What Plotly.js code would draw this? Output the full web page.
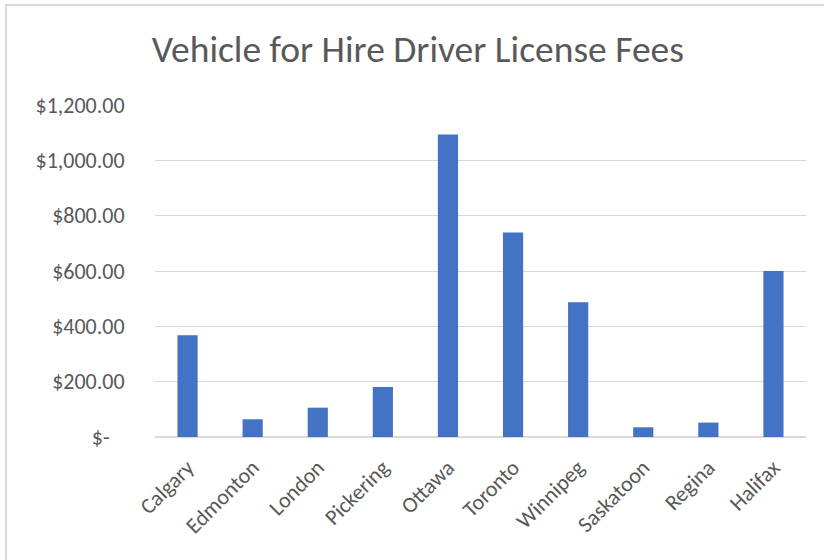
<!DOCTYPE html>
<html>
<head>
<meta charset="utf-8">
<script src="https://cdn.plot.ly/plotly-3.0.1.min.js"></script>
<style>
  html, body { margin: 0; padding: 0; background: #fff; }
  #wrap { position: relative; width: 824px; height: 560px; overflow: hidden; }
  #chart { width: 824px; height: 560px; }
  #frame { position: absolute; left: 5px; top: 4px; width: 900px; height: 700px;
           border-left: 2px solid #d9d9d9; border-top: 2px solid #d9d9d9; pointer-events: none; }
</style>
</head>
<body>
<div id="wrap">
  <div id="chart"></div>
  <div id="frame"></div>
</div>
<script>
const cities = ["Calgary", "Edmonton", "London", "Pickering", "Ottawa", "Toronto", "Winnipeg", "Saskatoon", "Regina", "Halifax"];
const fees = [368, 64, 106, 181, 1093, 739, 487, 35, 52, 600];
const tickVals = [0, 200, 400, 600, 800, 1000, 1200];
const tickLabels = ["$-\u00a0\u00a0\u00a0", "$200.00", "$400.00", "$600.00", "$800.00", "$1,000.00", "$1,200.00"];
const chartTitle = "Vehicle for Hire Driver License Fees";

const font = "Calibri, Carlito, Lato, 'Open Sans', sans-serif";

Plotly.newPlot("chart", [{
  type: "bar",
  x: cities,
  y: fees,
  marker: { color: "#4472C4" },
  hoverinfo: "x+y"
}], {
  width: 824,
  height: 560,
  margin: { l: 155, r: 18, t: 105, b: 123 },
  paper_bgcolor: "#ffffff",
  plot_bgcolor: "#ffffff",
  bargap: 0.69,
  showlegend: false,
  title: {
    text: chartTitle,
    font: { family: font, size: 37.5, color: "#595959", weight: 300 },
    x: 0.507, xanchor: "center",
    y: 0.912, yanchor: "middle"
  },
  xaxis: {
    type: "category",
    tickangle: -45,
    tickfont: { family: font, size: 22, color: "#595959" },
    showgrid: false,
    showline: false,
    ticks: "outside",
    ticklen: 8,
    tickcolor: "rgba(0,0,0,0)",
    zeroline: false
  },
  yaxis: {
    range: [0, 1200],
    tickvals: tickVals,
    ticktext: tickLabels,
    tickfont: { family: font, size: 22, color: "#595959" },
    gridcolor: "#d9d9d9",
    gridwidth: 1,
    zeroline: true,
    zerolinecolor: "#d9d9d9",
    zerolinewidth: 1.5,
    showline: false,
    ticks: "outside",
    ticklen: 25,
    tickcolor: "rgba(0,0,0,0)"
  }
}, { displayModeBar: false, staticPlot: true });
</script>
</body>
</html>
